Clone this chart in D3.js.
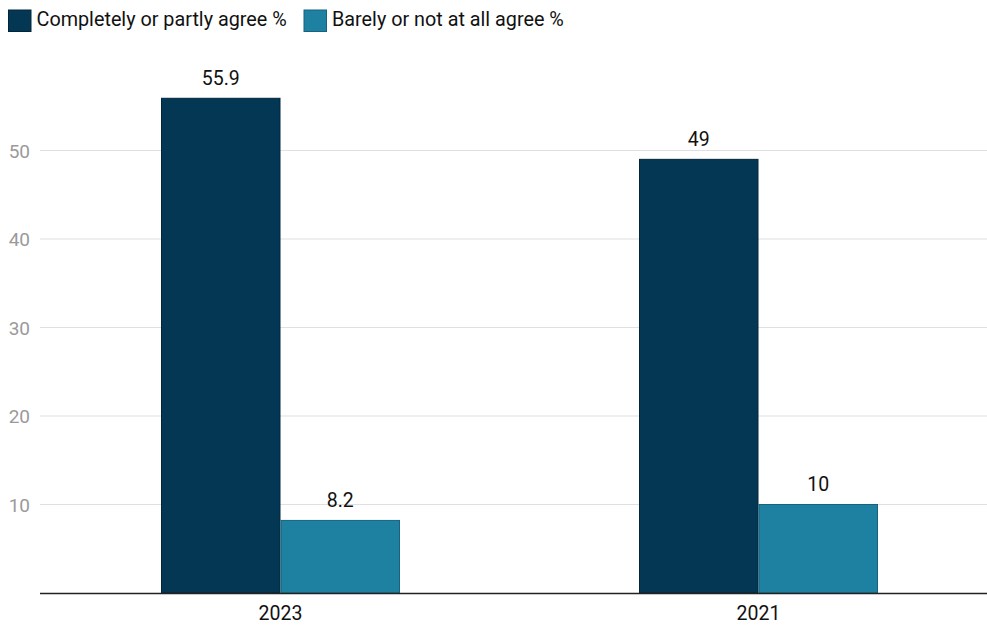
<!DOCTYPE html>
<html>
<head>
<meta charset="utf-8">
<script src="https://cdn.jsdelivr.net/npm/d3@7"></script>
<style>
  html, body { margin: 0; padding: 0; background: #fff; }
  svg { display: block; font-family: Roboto, "Noto Sans", sans-serif; }
</style>
</head>
<body>
<svg id="chart" width="987" height="626"></svg>
<script>
// Survey results by year
const years = ["2023", "2021"];
const seriesNames = ["Completely or partly agree %", "Barely or not at all agree %"];
const agree = [55.9, 49];
const disagree = [8.2, 10];
const yTicks = [10, 20, 30, 40, 50];
const colors = ["#043754", "#1f81a1"];
const strokes = ["#01263c", "#17637d"];

const svg = d3.select("#chart");
const W = 987;
const plotLeft = 40, plotRight = 987;
const y = d3.scaleLinear().domain([0, 10]).range([593, 504.5]);

const x0 = d3.scaleBand().domain(years).range([41.5, 997.5]).padding(0);
const x1 = d3.scaleBand().domain(seriesNames)
  .range([x0.bandwidth() / 4, x0.bandwidth() * 3 / 4]).padding(0);

// Gridlines and y tick labels
const grid = svg.append("g");
grid.selectAll("line").data(yTicks).join("line")
  .attr("x1", plotLeft).attr("x2", plotRight)
  .attr("y1", d => y(d)).attr("y2", d => y(d))
  .attr("stroke", "#e0e0e0").attr("stroke-width", 1.2);
grid.selectAll("text").data(yTicks).join("text")
  .attr("x", 30).attr("y", d => y(d)).attr("dy", "0.38em")
  .attr("text-anchor", "end")
  .attr("fill", "#9a9a9a").attr("font-size", 19)
  .text(d => d);

// Bars
const rows = years.map((yr, i) => ({ year: yr, values: [agree[i], disagree[i]] }));
const groups = svg.append("g").selectAll("g").data(rows).join("g")
  .attr("transform", d => `translate(${x0(d.year)},0)`);

groups.selectAll("rect")
  .data(d => d.values.map((v, j) => ({ key: seriesNames[j], v, j })))
  .join("rect")
  .attr("x", d => x1(d.key) + 0.5)
  .attr("width", x1.bandwidth() - 1)
  .attr("y", d => y(d.v))
  .attr("height", d => y(0) - y(d.v))
  .attr("fill", d => colors[d.j])
  .attr("stroke", d => strokes[d.j])
  .attr("stroke-width", 1);

groups.selectAll("text.val")
  .data(d => d.values.map((v, j) => ({ key: seriesNames[j], v, j })))
  .join("text")
  .attr("class", "val")
  .attr("x", d => x1(d.key) + x1.bandwidth() / 2)
  .attr("y", d => y(d.v) - 13.5)
  .attr("text-anchor", "middle")
  .attr("fill", "#111").attr("font-size", 19.5)
  .text(d => d.v);

// Baseline
svg.append("line")
  .attr("x1", plotLeft).attr("x2", W)
  .attr("y1", y(0) + 0.5).attr("y2", y(0) + 0.5)
  .attr("stroke", "#222").attr("stroke-width", 1.3);

// X labels
svg.append("g").selectAll("text").data(years).join("text")
  .attr("x", d => x0(d) + x0.bandwidth() / 2)
  .attr("y", 619.5)
  .attr("text-anchor", "middle")
  .attr("fill", "#111").attr("font-size", 19.5)
  .text(d => d);

// Legend
const legendX = [8, 303.5];
const legend = svg.append("g").selectAll("g").data(seriesNames).join("g")
  .attr("transform", (d, i) => `translate(${legendX[i]},9.5)`);
legend.append("rect")
  .attr("x", 0.5).attr("y", 0.5).attr("width", 22.5).attr("height", 21.5)
  .attr("fill", (d, i) => colors[i])
  .attr("stroke", (d, i) => strokes[i]);
legend.append("text")
  .attr("x", 28.5).attr("y", 16.5)
  .attr("fill", "#111").attr("font-size", 19.8)
  .text(d => d);
</script>
</body>
</html>
